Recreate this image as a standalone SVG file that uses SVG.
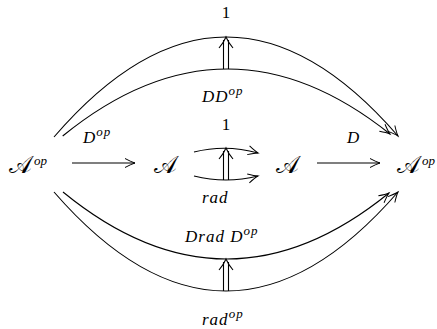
<svg xmlns="http://www.w3.org/2000/svg" width="437" height="329" viewBox="0 0 437 329">
<style>
.t{font-family:"Liberation Serif","DejaVu Serif",serif;font-style:italic;fill:#000}
.n{font-family:"Liberation Serif","DejaVu Serif",serif;font-style:normal;fill:#000;font-size:17px}
.m{font-size:17px;letter-spacing:1px}
.big{font-size:24px;font-style:normal}
.sup{font-size:13px;font-style:italic}
.c{fill:none;stroke:#000;stroke-width:1.1}
</style>
<defs>
<marker id="ah" markerWidth="14" markerHeight="12" refX="11" refY="6" orient="auto" markerUnits="userSpaceOnUse">
<path d="M1 1.5 Q7.5 5 11 6 Q7.5 7 1 10.5" fill="none" stroke="#000" stroke-width="1"/>
</marker>
</defs>
<g id="connectors">
<path class="c" d="M54 137 Q226 -62.5 398 136" marker-end="url(#ah)"/>
<path class="c" d="M62.7 136 Q226 3 390 134" marker-end="url(#ah)"/>
<path class="c" d="M54 192 Q226 390 398 192" marker-end="url(#ah)"/>
<path class="c" d="M63 192 Q226 325.5 389 193" marker-end="url(#ah)"/>
<path class="c" d="M72 163 L135 163" marker-end="url(#ah)"/>
<path class="c" d="M317 163 L380 163" marker-end="url(#ah)"/>
<path class="c" d="M194 152 Q226 144 258 153" marker-end="url(#ah)"/>
<path class="c" d="M194 176 Q226 184 258 176" marker-end="url(#ah)"/>
<g id="dbl-top">
<path class="c" d="M223.5 69 V40 M228.5 69 V40"/>
<path class="c" d="M219 48 Q224 42 226 37 Q228 42 233 48"/>
</g>
<g id="dbl-mid">
<path class="c" d="M223.5 180 V151 M228.5 180 V151"/>
<path class="c" d="M219 159 Q224 153 226 148 Q228 153 233 159"/>
</g>
<g id="dbl-bot">
<path class="c" d="M223.5 291 V262 M228.5 291 V262"/>
<path class="c" d="M219 270 Q224 264 226 259 Q228 264 233 270"/>
</g>
</g>
<g id="node-Aop-left"><text class="t big" x="9" y="173">𝒜<tspan class="sup" dx="2" dy="-8">op</tspan></text></g>
<g id="node-A1"><text class="t big" x="154" y="173">𝒜</text></g>
<g id="node-A2"><text class="t big" x="276" y="173">𝒜</text></g>
<g id="node-Aop-right"><text class="t big" x="397" y="173">𝒜<tspan class="sup" dx="2" dy="-8">op</tspan></text></g>
<g id="labels">
<text class="n" x="226" y="18" text-anchor="middle">1</text>
<text class="t m" x="202" y="102">DD<tspan class="sup" dy="-7">op</tspan></text>
<text class="n" x="226" y="130" text-anchor="middle">1</text>
<text class="t m" x="83" y="143">D<tspan class="sup" dy="-7">op</tspan></text>
<text class="t m" x="347" y="143">D</text>
<text class="t m" x="202" y="203">rad</text>
<text class="t m" x="185" y="242">Drad D<tspan class="sup" dy="-7">op</tspan></text>
<text class="t m" x="202" y="325">rad<tspan class="sup" dy="-7">op</tspan></text>
</g>
</svg>
